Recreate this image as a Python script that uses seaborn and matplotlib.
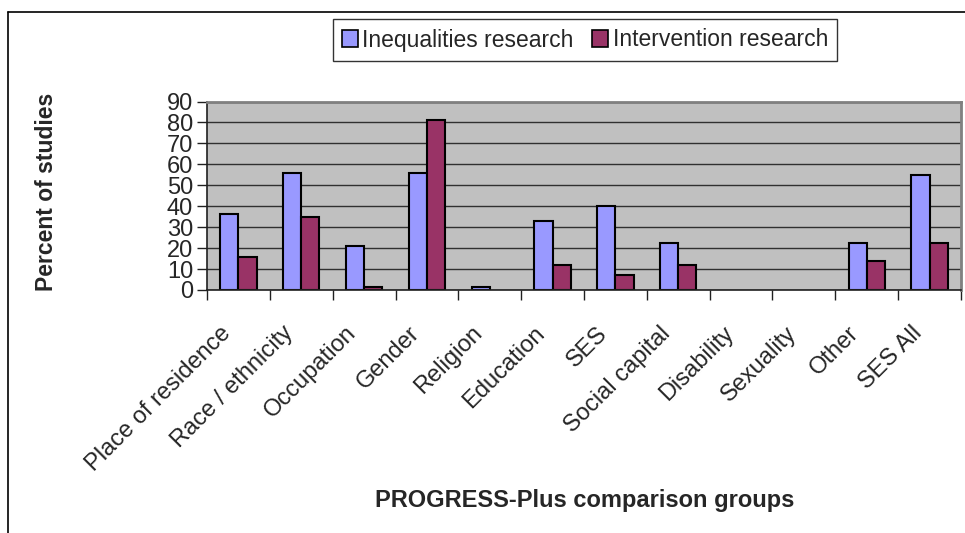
import pandas as pd
import seaborn as sns
import matplotlib.pyplot as plt
from matplotlib.lines import Line2D
from matplotlib.ticker import MultipleLocator
from matplotlib.transforms import ScaledTranslation

# values
groups = ["Place of residence", "Race / ethnicity", "Occupation", "Gender",
          "Religion", "Education", "SES", "Social capital", "Disability",
          "Sexuality", "Other", "SES All"]
inequalities = [36.5, 56, 21, 56, 1.6, 33, 40, 22.6, 0, 0, 22.6, 55]
intervention = [15.6, 35, 1.6, 81, 0, 12, 7, 12, 0, 0, 14, 22.6]
series = ["Inequalities research", "Intervention research"]

df = pd.DataFrame({
    "group": groups * 2,
    "value": inequalities + intervention,
    "series": [series[0]] * len(groups) + [series[1]] * len(groups),
})

sns.set_theme(style="white")
plt.rcParams['font.family'] = ['Liberation Sans', 'DejaVu Sans']

fig = plt.figure(figsize=(9.65, 5.33), dpi=100)
ax = fig.add_axes([207 / 965, 1 - 290 / 533, (961 - 207) / 965, (290 - 101.5) / 533])

sns.barplot(data=df, x="group", y="value", hue="series", order=groups,
            palette=["#9999FF", "#993366"], width=0.58, edgecolor="black",
            linewidth=1.5, saturation=1, ax=ax, legend=True)

# empty categories show no outline in the original
for cont in ax.containers:
    for bar in cont:
        if bar.get_height() == 0:
            bar.set_visible(False)

ax.set_facecolor("#C0C0C0")
ax.set_ylim(0, 90)
ax.set_xlim(-0.5, len(groups) - 0.5)
ax.yaxis.set_major_locator(MultipleLocator(10))
ax.yaxis.grid(True, color="#303030", linewidth=1)
ax.set_axisbelow(True)

for side in ["top", "right"]:
    ax.spines[side].set_color("#808080")
    ax.spines[side].set_linewidth(2)
for side in ["left", "bottom"]:
    ax.spines[side].set_color("#202020")
    ax.spines[side].set_linewidth(1.2)

ax.tick_params(axis="y", which="major", left=True, length=7, width=1,
               color="#202020", labelsize=17, pad=3)
ax.set_yticks(range(0, 91, 10))
ax.set_xticks(range(len(groups)))
ax.set_xticks([i - 0.5 for i in range(len(groups) + 1)], minor=True)
ax.tick_params(axis="x", which="major", bottom=False, length=0, pad=0)
ax.tick_params(axis="x", which="minor", bottom=True, length=7, width=1,
               color="#202020")
ax.set_xticklabels(groups, rotation=45, ha="right", va="center",
                   rotation_mode="anchor", fontsize=17)
shift = ScaledTranslation(-11 / 100, -40 / 100, fig.dpi_scale_trans)
for lab in ax.get_xticklabels():
    lab.set_transform(lab.get_transform() + shift)

ax.set_xlabel("")
ax.set_ylabel("")
fig.text(585 / 965, 1 - 500 / 533, "PROGRESS-Plus comparison groups",
         ha="center", va="center", fontsize=17, fontweight="bold")
fig.text(47 / 965, 1 - 192 / 533, "Percent of studies", ha="center",
         va="center", rotation=90, fontsize=16.5, fontweight="bold")

leg = ax.legend(loc="center", bbox_to_anchor=(585 / 965, 1 - 40 / 533),
                bbox_transform=fig.transFigure, ncol=2, fontsize=16.5,
                frameon=True, fancybox=False, handlelength=0.7,
                handleheight=0.7, handletextpad=0.2, columnspacing=0.8,
                borderpad=0.4, borderaxespad=0)
leg.get_frame().set_edgecolor("black")
leg.get_frame().set_linewidth(1)
for h in leg.legend_handles:
    h.set_edgecolor("black")
    h.set_linewidth(1.2)

# outer chart frame (top and left edges visible in the reference)
fig.add_artist(Line2D([8 / 965, 1], [1 - 12 / 533] * 2, color="black",
                      linewidth=1.2, transform=fig.transFigure))
fig.add_artist(Line2D([8 / 965] * 2, [0, 1 - 12 / 533], color="black",
                      linewidth=1.2, transform=fig.transFigure))

fig.savefig("out.png", dpi=100)
